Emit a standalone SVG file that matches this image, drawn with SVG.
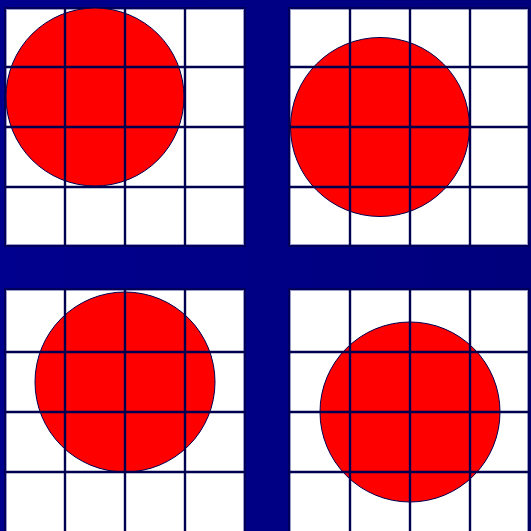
<svg xmlns="http://www.w3.org/2000/svg" width="531" height="531" viewBox="0 0 531 531">
  <defs>
    <linearGradient id="bg" x1="0" y1="0" x2="1" y2="0">
      <stop offset="0" stop-color="#00008e"/>
      <stop offset="1" stop-color="#00007c"/>
    </linearGradient>
    <style>
      .edge { fill: none; stroke: #00005a; stroke-width: 2; }
      .panel { fill: #ffffff; stroke: #9a9ac8; stroke-width: 1; }
      .disc { fill: #ff0000; stroke: #000050; stroke-width: 1; }
      .grid line { stroke: #000050; stroke-width: 2.4; }
    </style>
  </defs>
  <rect id="background" x="0" y="0" width="531" height="531" fill="url(#bg)"/>

  <g id="panel-top-left">
    <rect class="edge" x="5" y="8" width="240" height="238"/>
    <rect class="panel" x="6.5" y="9.5" width="237" height="235"/>
    <circle class="disc" cx="95" cy="97" r="89"/>
  </g>
  <g id="panel-top-right">
    <rect class="edge" x="289" y="8" width="240" height="238"/>
    <rect class="panel" x="290.5" y="9.5" width="237" height="235"/>
    <circle class="disc" cx="380" cy="127" r="89.5"/>
  </g>
  <g id="panel-bottom-left">
    <rect class="edge" x="5" y="289" width="240" height="250"/>
    <rect class="panel" x="6.5" y="290.5" width="237" height="245"/>
    <circle class="disc" cx="125" cy="382" r="90"/>
  </g>
  <g id="panel-bottom-right">
    <rect class="edge" x="289" y="289" width="240" height="250"/>
    <rect class="panel" x="290.5" y="290.5" width="237" height="245"/>
    <circle class="disc" cx="410" cy="412" r="90"/>
  </g>

  <g id="grid" class="grid">
    <line x1="65" y1="9" x2="65" y2="245"/>
    <line x1="125" y1="9" x2="125" y2="245"/>
    <line x1="185" y1="9" x2="185" y2="245"/>
    <line x1="6" y1="67" x2="244" y2="67"/>
    <line x1="6" y1="127" x2="244" y2="127"/>
    <line x1="6" y1="187" x2="244" y2="187"/>

    <line x1="350" y1="9" x2="350" y2="245"/>
    <line x1="410" y1="9" x2="410" y2="245"/>
    <line x1="470" y1="9" x2="470" y2="245"/>
    <line x1="290" y1="67" x2="528" y2="67"/>
    <line x1="290" y1="127" x2="528" y2="127"/>
    <line x1="290" y1="187" x2="528" y2="187"/>

    <line x1="65" y1="290" x2="65" y2="531"/>
    <line x1="125" y1="290" x2="125" y2="531"/>
    <line x1="185" y1="290" x2="185" y2="531"/>
    <line x1="6" y1="352" x2="244" y2="352"/>
    <line x1="6" y1="412" x2="244" y2="412"/>
    <line x1="6" y1="472" x2="244" y2="472"/>

    <line x1="350" y1="290" x2="350" y2="531"/>
    <line x1="410" y1="290" x2="410" y2="531"/>
    <line x1="470" y1="290" x2="470" y2="531"/>
    <line x1="290" y1="352" x2="528" y2="352"/>
    <line x1="290" y1="412" x2="528" y2="412"/>
    <line x1="290" y1="472" x2="528" y2="472"/>
  </g>
</svg>
